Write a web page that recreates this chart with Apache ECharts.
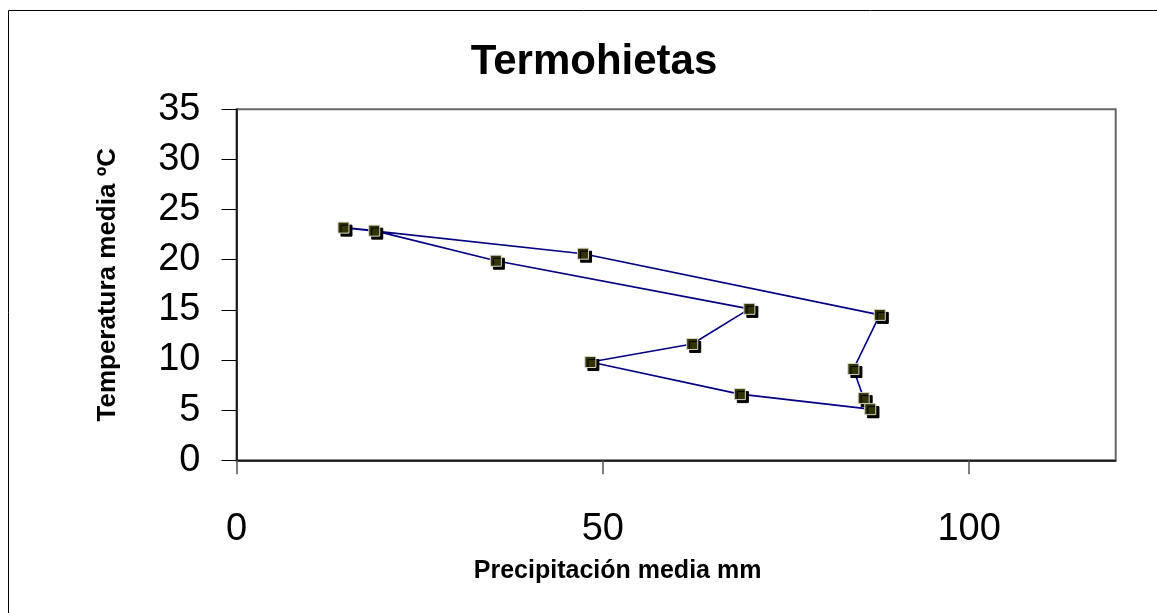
<!DOCTYPE html>
<html>
<head>
<meta charset="utf-8">
<title>Termohietas</title>
<script src="https://cdn.jsdelivr.net/npm/echarts@6/dist/echarts.min.js"></script>
<style>
  html, body { margin: 0; padding: 0; background: #fff; }
  #chart { width: 1157px; height: 613px; }
</style>
</head>
<body>
<div id="chart"></div>
<script>
// meses (el último cierra el ciclo volviendo a enero)
var meses = ['Ene', 'Feb', 'Mar', 'Abr', 'May', 'Jun', 'Jul', 'Ago', 'Sep', 'Oct', 'Nov', 'Dic', 'Ene'];
// precipitación media (mm)
var precipitacion = [86.5, 85.6, 84.2, 87.8, 47.3, 14.6, 18.8, 35.4, 70.0, 62.2, 48.3, 68.7, 86.5];
// temperatura media (ºC)
var temperatura = [5.1, 6.2, 9.1, 14.5, 20.6, 23.2, 22.9, 19.9, 15.1, 11.6, 9.8, 6.6, 5.1];

window.onload = function () {
    var chart = echarts.init(document.getElementById('chart'));

    var puntos = precipitacion.map(function (p, i) {
        return { name: meses[i], value: [p, temperatura[i]] };
    });

    var font = 'Liberation Sans, Arial, sans-serif';

    var option = {
        animation: false,
        backgroundColor: '#fff',
        title: {
            text: 'Termohietas',
            left: 589,
            top: 36,
            textAlign: 'center',
            textStyle: { fontFamily: font, fontSize: 42, fontWeight: 'bold', color: '#000' }
        },
        graphic: [{
            type: 'rect',
            shape: { x: 8.5, y: 10.5, width: 1300, height: 800 },
            style: { fill: 'none', stroke: '#000', lineWidth: 1 },
            silent: true
        }],
        grid: {
            left: 236.5,
            right: 41.3,
            top: 109.3,
            bottom: 152.7,
            show: true,
            borderColor: '#666',
            borderWidth: 2,
            backgroundColor: 'transparent'
        },
        xAxis: {
            type: 'value',
            min: 0,
            max: 120,
            interval: 50,
            name: 'Precipitación media mm',
            nameLocation: 'middle',
            nameGap: 98,
            nameTextStyle: {
                fontFamily: font, fontSize: 25, fontWeight: 'bold', color: '#000',
                padding: [0, 117, 0, 0]
            },
            axisLine: { lineStyle: { color: '#000', width: 1.5 } },
            axisTick: { show: true, length: 14, lineStyle: { color: '#555', width: 1.5 } },
            axisLabel: {
                fontFamily: font, fontSize: 38, color: '#000', margin: 50,
                showMaxLabel: false
            },
            splitLine: { show: false }
        },
        yAxis: {
            type: 'value',
            min: 0,
            max: 35,
            interval: 5,
            name: 'Temperatura media ºC',
            nameLocation: 'middle',
            nameGap: 116,
            nameTextStyle: { fontFamily: font, fontSize: 26, fontWeight: 'bold', color: '#000' },
            axisLine: { lineStyle: { color: '#000', width: 1.5 } },
            axisTick: { show: true, length: 15, lineStyle: { color: '#000', width: 1 } },
            axisLabel: { fontFamily: font, fontSize: 38, color: '#000', margin: 36 },
            splitLine: { show: false }
        },
        series: [{
            name: 'Termohietas',
            type: 'line',
            data: puntos,
            symbol: 'rect',
            symbolSize: 11,
            lineStyle: { color: '#000080', width: 1.6 },
            itemStyle: {
                color: '#333300',
                borderColor: '#d8d8c8',
                borderWidth: 1,
                shadowColor: '#000',
                shadowBlur: 0,
                shadowOffsetX: 3,
                shadowOffsetY: 3
            },
            z: 3
        }]
    };

    chart.setOption(option);
};
</script>
</body>
</html>
